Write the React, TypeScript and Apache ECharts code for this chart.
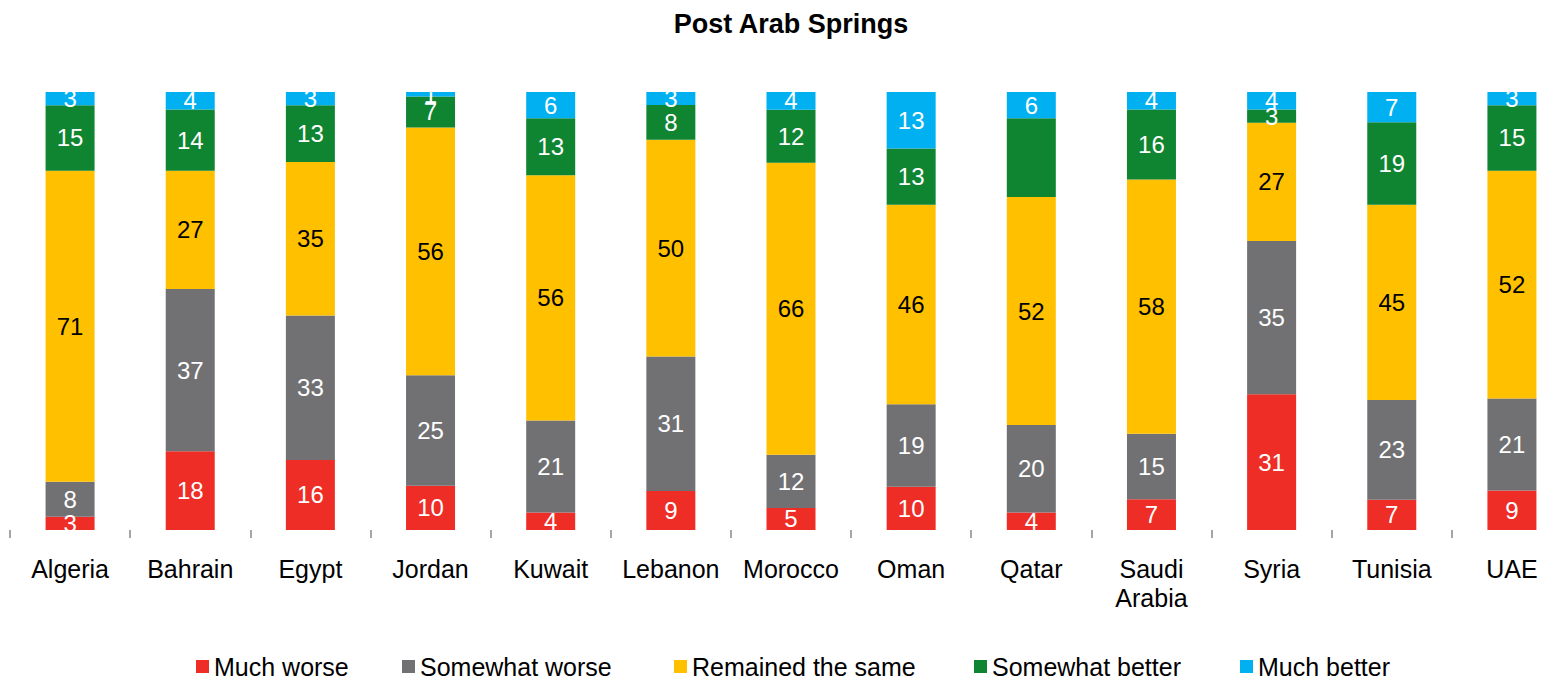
import React, { useEffect, useRef } from "react";
import * as echarts from "echarts";

const countries = ["Algeria", "Bahrain", "Egypt", "Jordan", "Kuwait", "Lebanon", "Morocco", "Oman", "Qatar", "Saudi\nArabia", "Syria", "Tunisia", "UAE"];
const seriesNames = ["Much worse", "Somewhat worse", "Remained the same", "Somewhat better", "Much better"];
const muchWorse = [3, 18, 16, 10, 4, 9, 5, 10, 4, 7, 31, 7, 9];
const somewhatWorse = [8, 37, 33, 25, 21, 31, 12, 19, 20, 15, 35, 23, 21];
const remainedSame = [71, 27, 35, 56, 56, 50, 66, 46, 52, 58, 27, 45, 52];
const somewhatBetter = [15, 14, 13, 7, 13, 8, 12, 13, 18, 16, 3, 19, 15];
const muchBetter = [3, 4, 3, 1, 6, 3, 4, 13, 6, 4, 4, 7, 3];
// labels not shown in the reference: [series index, country index]
const hiddenLabels = [[3, 8]];

const colors = ["#ED2D26", "#717174", "#FFC000", "#0F8431", "#00B0F0"];
const legendLefts = [196, 402, 674, 974, 1240];
const FONT = "Liberation Sans, Arial, sans-serif";

export default function App() {
  const ref = useRef<HTMLDivElement>(null);
  useEffect(() => {
    const chart = echarts.init(ref.current!, null, { renderer: "svg" });
    const all = [muchWorse, somewhatWorse, remainedSame, somewhatBetter, muchBetter];
    const totals = countries.map((_, i) => all.reduce((s, arr) => s + arr[i], 0));
    const series = all.map((arr, si) => ({
      name: seriesNames[si],
      type: "bar",
      stack: "total",
      barWidth: 49,
      itemStyle: { color: colors[si] },
      label: {
        show: true,
        position: "inside",
        color: si === 2 ? "#000000" : "#ffffff",
        fontSize: 24,
        fontFamily: FONT,
        formatter: (p: any) => String(arr[p.dataIndex]),
      },
      emphasis: { disabled: true },
      data: arr.map((v, i) => {
        const hidden = hiddenLabels.some(([s, c]) => s === si && c === i);
        return hidden ? { value: (v / totals[i]) * 100, label: { show: false } } : { value: (v / totals[i]) * 100 };
      }),
    }));
    chart.setOption({
      animation: false,
      title: {
        text: "Post Arab Springs",
        left: 791,
        textAlign: "center",
        top: 10,
        padding: 0,
        textStyle: { fontSize: 27, fontWeight: "bold", fontFamily: FONT, color: "#000" },
      },
      legend: seriesNames.map((n, i) => ({
        data: [n],
        left: legendLefts[i],
        top: 654,
        padding: 0,
        icon: "rect",
        itemWidth: 13,
        itemHeight: 13,
        selectedMode: false,
        textStyle: { fontSize: 25, fontFamily: FONT, color: "#000" },
      })),
      grid: { left: 10, width: 1562, top: 92, height: 438, containLabel: false, outerBoundsMode: "none" },
      xAxis: {
        type: "category",
        data: countries,
        axisLine: { show: false },
        axisTick: { show: true, length: 8, lineStyle: { color: "#888888", width: 1.5 } },
        axisLabel: { margin: 24, fontSize: 25, fontFamily: FONT, color: "#000", lineHeight: 29, interval: 0 },
      },
      yAxis: { type: "value", min: 0, max: 100, show: false, splitLine: { show: false } },
      series,
    });
    return () => chart.dispose();
  }, []);
  return <div ref={ref} style={{ position: "absolute", left: 0, top: 0, width: 1541, height: 680, background: "#fff" }} />;
}
